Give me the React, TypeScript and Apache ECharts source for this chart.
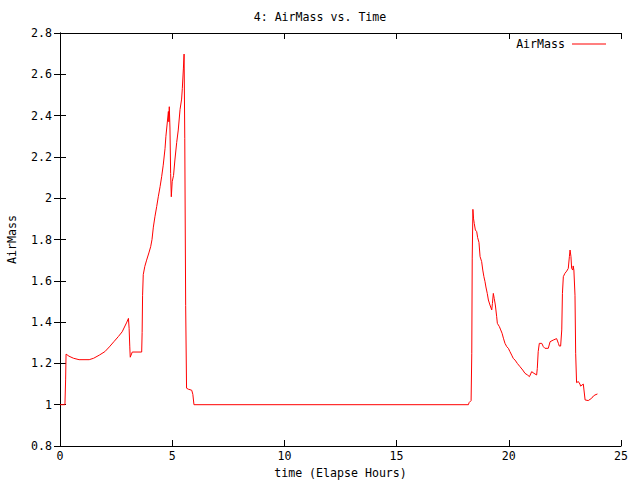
import React, { useEffect, useRef } from "react";
import * as echarts from "echarts";

const titleText = "4: AirMass vs. Time";
const xName = "time (Elapse Hours)";
const yName = "AirMass";
const seriesName = "AirMass";

const xMin = 0;
const xMax = 25;
const xStep = 5;
const yMin = 0.8;
const yMax = 2.8;
const yStep = 0.2;

// Elapsed hours
const timeHours: number[] = [
  0, 0.22, 0.25, 0.27, 0.4, 0.6, 0.85, 1.3, 1.5, 1.75, 2.0, 2.2, 2.4, 2.6, 2.77, 2.98, 3.05, 3.08, 3.11, 3.13,
  3.22, 3.64, 3.66, 3.68, 3.71, 3.78, 3.86, 3.96, 4.04, 4.1, 4.16, 4.23, 4.31, 4.38, 4.46, 4.53, 4.6, 4.68,
  4.72, 4.83, 4.85, 4.87, 4.9, 4.93, 4.96, 5.0, 5.06, 5.12, 5.2, 5.27, 5.35, 5.42, 5.45, 5.5, 5.53, 5.56,
  5.6, 5.64, 5.72, 5.87, 5.92, 5.97,
  18.2, 18.23, 18.32, 18.35, 18.37, 18.4, 18.43, 18.46, 18.51, 18.57, 18.61, 18.67, 18.72, 18.79, 18.84,
  18.89, 18.94, 18.98, 19.04, 19.09, 19.16, 19.24, 19.27, 19.31, 19.35, 19.4, 19.46, 19.49, 19.58, 19.64,
  19.7, 19.76, 19.83, 19.91, 19.98, 20.05, 20.13, 20.2, 20.28, 20.38, 20.5, 20.62, 20.72, 20.83, 20.92,
  21.02, 21.12, 21.24, 21.27, 21.31, 21.36, 21.47, 21.54, 21.61, 21.76, 21.84, 21.98, 22.13, 22.21, 22.25,
  22.31, 22.36, 22.39, 22.43, 22.5, 22.58, 22.65, 22.7, 22.73, 22.77, 22.8, 22.85, 22.87, 22.9, 22.95,
  22.98, 23.02, 23.1, 23.17, 23.2, 23.32, 23.4, 23.54, 23.69, 23.77, 23.84, 23.95,
];

const airMass: number[] = [
  1.0, 1.0, 1.12, 1.245, 1.235, 1.225, 1.218, 1.218, 1.225, 1.24, 1.257, 1.28, 1.305, 1.33, 1.353, 1.4, 1.418, 1.37, 1.28, 1.23,
  1.255, 1.255, 1.35, 1.53, 1.63, 1.67, 1.7, 1.735, 1.765, 1.8, 1.86, 1.91, 1.96, 2.007, 2.056, 2.104, 2.16, 2.24,
  2.3, 2.42, 2.37, 2.443, 2.34, 2.12, 2.007, 2.08, 2.11, 2.185, 2.27, 2.33, 2.43, 2.48, 2.53, 2.63, 2.698, 2.29,
  1.48, 1.08, 1.075, 1.07, 1.05, 1.0,
  1.0, 1.01, 1.02, 1.249, 1.71, 1.946, 1.9, 1.878, 1.846, 1.838, 1.81, 1.786, 1.717, 1.693, 1.652,
  1.62, 1.596, 1.57, 1.539, 1.507, 1.483, 1.459, 1.49, 1.539, 1.515, 1.483, 1.426, 1.394, 1.378, 1.362,
  1.346, 1.322, 1.297, 1.281, 1.273, 1.257, 1.24, 1.224, 1.216, 1.2, 1.184, 1.168, 1.152, 1.144, 1.136,
  1.16, 1.152, 1.144, 1.176, 1.257, 1.297, 1.297, 1.281, 1.273, 1.273, 1.305, 1.313, 1.32, 1.297, 1.284,
  1.284, 1.362, 1.539, 1.62, 1.636, 1.647, 1.66, 1.717, 1.749, 1.717, 1.66, 1.652, 1.672, 1.652, 1.53,
  1.249, 1.107, 1.112, 1.1, 1.09, 1.1, 1.023, 1.02, 1.031, 1.042, 1.047, 1.052,
];

const FONT = "DejaVu Sans Mono";
const FS = 11.6;

export default function App() {
  const ref = useRef<HTMLDivElement>(null);
  useEffect(() => {
    if (!ref.current) return;
    const chart = echarts.init(ref.current, undefined, { renderer: "svg" });
    const data = timeHours.map((t, i) => [t, airMass[i]]);
    const axisLine = { show: true, lineStyle: { color: "#000", width: 1 } };
    const axisTick = { show: true, inside: true, length: 6, lineStyle: { color: "#000", width: 1 } };
    const fmtY = (v: number) => String(+v.toFixed(1));
    chart.setOption({
      animation: false,
      backgroundColor: "#fff",
      textStyle: { fontFamily: FONT, fontSize: FS, color: "#000" },
      title: {
        text: titleText,
        left: "center",
        top: 6,
        textStyle: { fontFamily: FONT, fontSize: FS, fontWeight: "normal", color: "#000" },
      },
      legend: {
        show: true,
        right: 29,
        top: 33,
        align: "right",
        icon: "rect",
        itemWidth: 34,
        itemHeight: 1,
        itemGap: 0,
        textStyle: { fontFamily: FONT, fontSize: FS, color: "#000", padding: [0, 2, 0, 0] },
        data: [{ name: seriesName, itemStyle: { color: "#ff0000" } }],
      },
      grid: { left: 60, right: 19, top: 33, bottom: 34, containLabel: false, outerBoundsMode: "none" },
      xAxis: [
        {
          type: "value",
          min: xMin,
          max: xMax,
          interval: xStep,
          name: xName,
          nameLocation: "middle",
          nameGap: 21,
          nameTextStyle: { fontFamily: FONT, fontSize: FS, color: "#000" },
          axisLine,
          axisTick,
          splitLine: { show: false },
          axisLabel: { fontFamily: FONT, fontSize: FS, color: "#000", margin: 4 },
        },
        {
          type: "value",
          position: "top",
          min: xMin,
          max: xMax,
          interval: xStep,
          axisLine,
          axisTick,
          splitLine: { show: false },
          axisLabel: { show: false },
        },
      ],
      yAxis: [
        {
          type: "value",
          min: yMin,
          max: yMax,
          interval: yStep,
          name: yName,
          nameLocation: "middle",
          nameGap: 42,
          nameRotate: 90,
          nameTextStyle: { fontFamily: FONT, fontSize: FS, color: "#000" },
          axisLine,
          axisTick,
          splitLine: { show: false },
          axisLabel: { fontFamily: FONT, fontSize: FS, color: "#000", margin: 8, formatter: fmtY },
        },
        {
          type: "value",
          position: "right",
          min: yMin,
          max: yMax,
          interval: yStep,
          axisLine,
          axisTick,
          splitLine: { show: false },
          axisLabel: { show: false },
        },
      ],
      series: [
        {
          name: seriesName,
          type: "line",
          data,
          showSymbol: false,
          symbol: "none",
          lineStyle: { color: "#ff0000", width: 1 },
          itemStyle: { color: "#ff0000" },
          xAxisIndex: 0,
          yAxisIndex: 0,
        },
      ],
    });
    return () => chart.dispose();
  }, []);
  return (
    <div
      ref={ref}
      style={{ position: "absolute", left: 0, top: 0, width: 640, height: 480, background: "#fff" }}
    />
  );
}
